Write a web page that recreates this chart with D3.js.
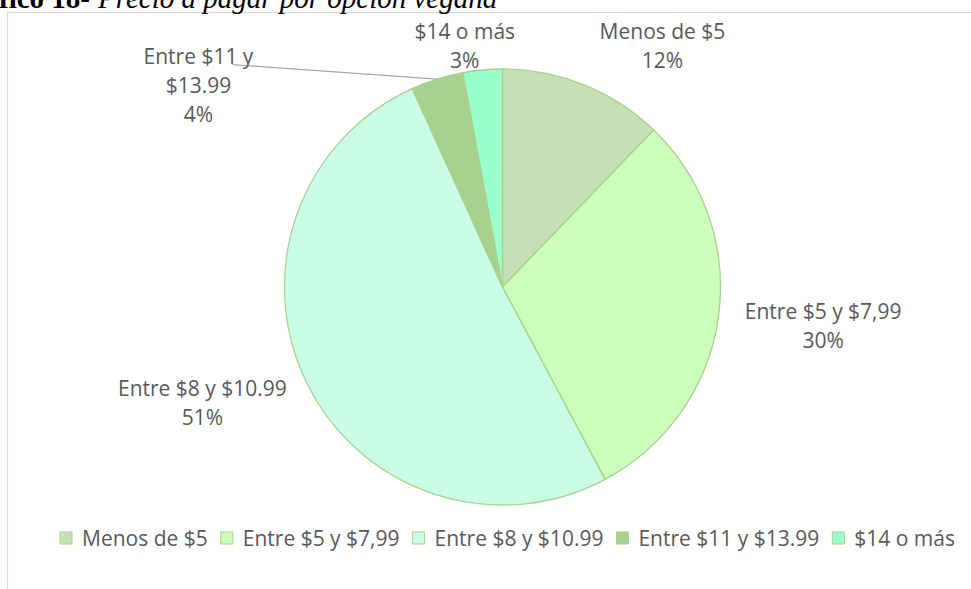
<!DOCTYPE html>
<html>
<head>
<meta charset="utf-8">
<script src="https://cdn.jsdelivr.net/npm/d3@7/dist/d3.min.js"></script>
<style>
  html, body { margin: 0; padding: 0; background: #ffffff; }
  svg { display: block; }
</style>
</head>
<body>
<svg id="chart" width="971" height="589"></svg>
<script>
// ---- Data ----
const categories = ["Menos de $5", "Entre $5 y $7,99", "Entre $8 y $10.99", "Entre $11 y $13.99", "$14 o más"];
const values = [12.2, 30.0, 51.0, 3.9, 2.9];
const labelLines = [["Menos de $5"], ["Entre $5 y $7,99"], ["Entre $8 y $10.99"], ["Entre $11 y", "$13.99"], ["$14 o más"]];
const colors = ["#c5e0b4", "#ccffbb", "#c9fde5", "#a9d18e", "#99ffcc"];
const titleBold = "Gráfico 18-";
const titleItalic = "Precio a pagar por opción vegana";

// ---- Layout ----
const W = 971, H = 589;
const cx = 502.5, cy = 287, r = 218;
const labelRadius = 1.3 * r;
const labelOffsets = [[54, 15], [40, -7], [-46, -16], [-219, 47], [-12, 34]];
const lineH = 29;
const fontSize = 21;
const fontFamily = "'Open Sans', 'Noto Sans', sans-serif";
const textColor = "#595959";

const svg = d3.select("#chart");
svg.append("rect").attr("width", W).attr("height", H).attr("fill", "#fff");

// Chart frame (cropped)
svg.append("rect")
  .attr("x", 7.5).attr("y", 12.5)
  .attr("width", 2000).attr("height", 2000)
  .attr("fill", "none").attr("stroke", "#d9d9d9").attr("stroke-width", 1.2);

// Title (cropped at top)
svg.append("text")
  .attr("x", 90).attr("y", 7.5)
  .attr("text-anchor", "end")
  .attr("font-family", "'Liberation Serif', 'DejaVu Serif', serif")
  .attr("font-weight", "bold")
  .attr("font-size", 29)
  .attr("fill", "#000")
  .text(titleBold);
svg.append("text")
  .attr("x", 98).attr("y", 7.5)
  .attr("font-family", "'Liberation Serif', 'DejaVu Serif', serif")
  .attr("font-style", "italic")
  .attr("font-size", 29)
  .attr("fill", "#000")
  .text(titleItalic);

// Pie
const data = categories.map((c, i) => ({ name: c, value: values[i], color: colors[i], lines: labelLines[i], off: labelOffsets[i] }));
const pie = d3.pie().sort(null).value(d => d.value);
const arcs = pie(data);
const arc = d3.arc().innerRadius(0).outerRadius(r);
const labelArc = d3.arc().innerRadius(labelRadius).outerRadius(labelRadius);
const edgeArc = d3.arc().innerRadius(r).outerRadius(r);

const g = svg.append("g").attr("transform", `translate(${cx},${cy})`);
g.selectAll("path.slice")
  .data(arcs)
  .join("path")
  .attr("class", "slice")
  .attr("d", arc)
  .attr("fill", d => d.data.color)
  .attr("stroke", "#a9d18e")
  .attr("stroke-width", 1.3)
  .attr("stroke-linejoin", "round");

const total = d3.sum(values);
arcs.forEach((a, i) => {
  const c = labelArc.centroid(a);
  const lx = c[0] + a.data.off[0];
  const ly = c[1] + a.data.off[1];
  const lines = a.data.lines.concat([Math.round(a.data.value / total * 100) + "%"]);
  const t = g.append("text")
    .attr("text-anchor", "middle")
    .attr("font-family", fontFamily)
    .attr("font-size", fontSize)
    .attr("fill", textColor);
  lines.forEach((ln, k) => {
    t.append("tspan").attr("x", lx).attr("y", ly + k * lineH).text(ln);
  });
  if (a.data.lines.length > 1) {
    // leader line from label to slice edge
    const e = edgeArc.centroid(a);
    g.insert("line", "text")
      .attr("x1", lx + 34).attr("y1", ly + 1)
      .attr("x2", e[0]).attr("y2", e[1])
      .attr("stroke", "#a6a6a6").attr("stroke-width", 1.2);
  }
});

// Legend
const legendY = 538;
const sq = 12, sqGap = 10, itemGap = 13;
const lg = svg.append("g");
let x = 0;
data.forEach((d, i) => {
  const it = lg.append("g");
  it.append("rect")
    .attr("x", x).attr("y", legendY - sq / 2)
    .attr("width", sq).attr("height", sq)
    .attr("fill", d.color).attr("stroke", "#a9d18e").attr("stroke-width", 1);
  const t = it.append("text")
    .attr("x", x + sq + sqGap).attr("y", legendY + 7.5)
    .attr("font-family", fontFamily)
    .attr("font-size", fontSize)
    .attr("fill", textColor)
    .text(d.name);
  const w = t.node().getComputedTextLength();
  x += sq + sqGap + w + itemGap;
});
const legendW = x - itemGap;
lg.attr("transform", `translate(${507.5 - legendW / 2},0)`);
</script>
</body>
</html>
